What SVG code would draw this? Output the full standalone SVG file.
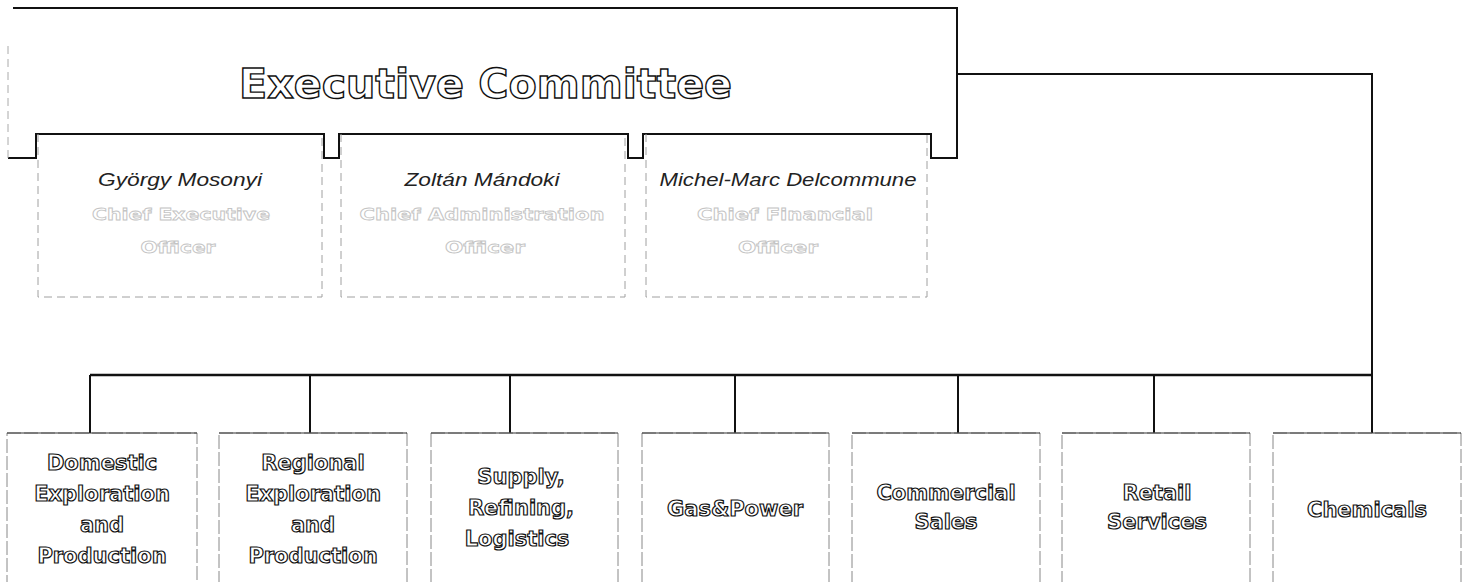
<svg xmlns="http://www.w3.org/2000/svg" width="1466" height="582" viewBox="0 0 1466 582">
  <style>
    .hdr { font-family: "DejaVu Sans", "Liberation Sans", sans-serif; font-weight: bold; font-size: 41px; fill: #ffffff; stroke: #111111; stroke-width: 1.4; text-anchor: middle; }
    .name { font-family: "Liberation Sans", "DejaVu Sans", sans-serif; font-style: italic; font-size: 18px; fill: #222222; text-anchor: middle; }
    .title { font-family: "DejaVu Sans", "Liberation Sans", sans-serif; font-weight: bold; font-size: 16px; fill: #ffffff; stroke: #c4c4c4; stroke-width: 0.8; text-anchor: middle; }
    .dept { font-family: "DejaVu Sans", "Liberation Sans", sans-serif; font-weight: bold; font-size: 21px; fill: #ffffff; stroke: #111111; stroke-width: 1.2; text-anchor: middle; }
    .frame { fill: none; stroke: #111111; stroke-width: 2; }
    .faint { fill: none; stroke: #aaaaaa; stroke-width: 1; stroke-dasharray: 8 5; }
    .pbox { fill: none; stroke: #a0a0a0; stroke-width: 1; stroke-dasharray: 8 5; }
    .box { fill: none; stroke: #888888; stroke-width: 1; stroke-dasharray: 14 3; }
    .boxtop { fill: none; stroke: #333333; stroke-width: 1.2; }
    .conn { fill: none; stroke: #111111; stroke-width: 2; }
    .bus { fill: none; stroke: #111111; stroke-width: 2.5; }
  </style>

  <g id="executive-committee">
    <path class="frame" d="M8,158 H36 V134 H324 V158 H339 V134 H628 V158 H643 V134 H931 V158 H957 V8 H13"/>
    <path class="faint" d="M8,158 V45"/>
    <text class="hdr" x="485.5" y="98" textLength="493" lengthAdjust="spacingAndGlyphs">Executive Committee</text>
  </g>

  <g id="ceo">
    <path class="pbox" d="M38,134 V297 H322 V134"/>
    <text class="name" x="180" y="186" textLength="164" lengthAdjust="spacingAndGlyphs">György Mosonyi</text>
    <text class="title" x="181" y="220" textLength="178" lengthAdjust="spacingAndGlyphs">Chief Executive</text>
    <text class="title" x="178" y="253" textLength="75" lengthAdjust="spacingAndGlyphs">Officer</text>
  </g>

  <g id="cao">
    <path class="pbox" d="M341,134 V297 H625 V134"/>
    <text class="name" x="482" y="186" textLength="155" lengthAdjust="spacingAndGlyphs">Zoltán Mándoki</text>
    <text class="title" x="482" y="220" textLength="245" lengthAdjust="spacingAndGlyphs">Chief Administration</text>
    <text class="title" x="485" y="253" textLength="80" lengthAdjust="spacingAndGlyphs">Officer</text>
  </g>

  <g id="cfo">
    <path class="pbox" d="M646,134 V297 H927 V134"/>
    <text class="name" x="788" y="186" textLength="257" lengthAdjust="spacingAndGlyphs">Michel-Marc Delcommune</text>
    <text class="title" x="785" y="220" textLength="176" lengthAdjust="spacingAndGlyphs">Chief Financial</text>
    <text class="title" x="778" y="253" textLength="80" lengthAdjust="spacingAndGlyphs">Officer</text>
  </g>

  <g id="connectors">
    <path class="conn" d="M957,74 H1372 V375"/>
    <path class="bus" d="M90,375 H1372"/>
    <path class="conn" d="M90,375 V433"/>
    <path class="conn" d="M310,375 V433"/>
    <path class="conn" d="M510,375 V433"/>
    <path class="conn" d="M735,375 V433"/>
    <path class="conn" d="M958,375 V433"/>
    <path class="conn" d="M1154,375 V433"/>
    <path class="conn" d="M1372,375 V433"/>
  </g>

  <g id="domestic-ep">
    <rect class="box" x="7" y="433" width="190" height="160"/>
    <path class="boxtop" d="M7,433 H197"/>
    <text class="dept" x="102" y="470">Domestic</text>
    <text class="dept" x="102" y="501">Exploration</text>
    <text class="dept" x="102" y="532">and</text>
    <text class="dept" x="102" y="563">Production</text>
  </g>

  <g id="regional-ep">
    <rect class="box" x="219" y="433" width="188" height="160"/>
    <path class="boxtop" d="M219,433 H407"/>
    <text class="dept" x="313" y="470">Regional</text>
    <text class="dept" x="313" y="501">Exploration</text>
    <text class="dept" x="313" y="532">and</text>
    <text class="dept" x="313" y="563">Production</text>
  </g>

  <g id="supply-refining-logistics">
    <rect class="box" x="431" y="433" width="187" height="160"/>
    <path class="boxtop" d="M431,433 H618"/>
    <text class="dept" x="521" y="484">Supply,</text>
    <text class="dept" x="521" y="515">Refining,</text>
    <text class="dept" x="517" y="546">Logistics</text>
  </g>

  <g id="gas-power">
    <rect class="box" x="642" y="433" width="187" height="160"/>
    <path class="boxtop" d="M642,433 H829"/>
    <text class="dept" x="735" y="516">Gas&amp;Power</text>
  </g>

  <g id="commercial-sales">
    <rect class="box" x="852" y="433" width="188" height="160"/>
    <path class="boxtop" d="M852,433 H1040"/>
    <text class="dept" x="946" y="500">Commercial</text>
    <text class="dept" x="946" y="529">Sales</text>
  </g>

  <g id="retail-services">
    <rect class="box" x="1062" y="433" width="188" height="160"/>
    <path class="boxtop" d="M1062,433 H1250"/>
    <text class="dept" x="1157" y="500">Retail</text>
    <text class="dept" x="1157" y="529">Services</text>
  </g>

  <g id="chemicals">
    <rect class="box" x="1273" y="433" width="188" height="160"/>
    <path class="boxtop" d="M1273,433 H1461"/>
    <text class="dept" x="1367" y="517">Chemicals</text>
  </g>
</svg>
